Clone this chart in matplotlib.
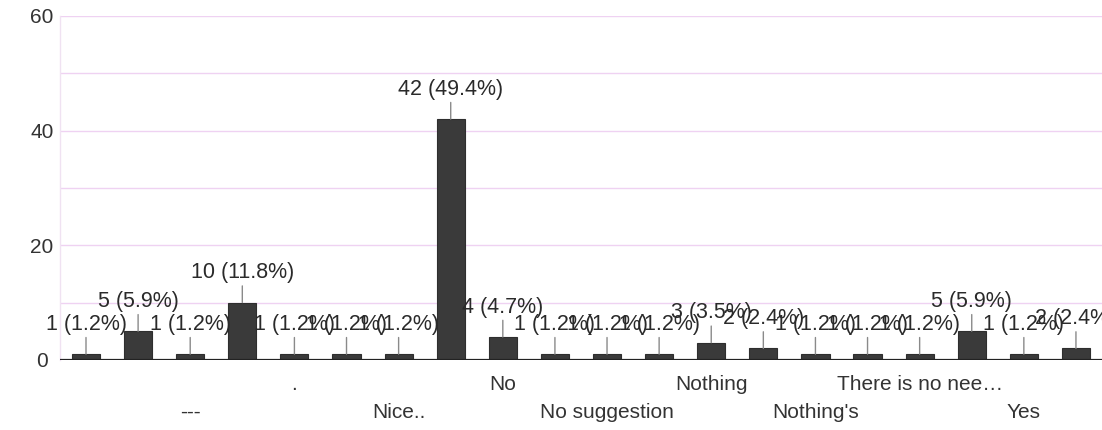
import matplotlib
matplotlib.use("Agg")
import matplotlib.pyplot as plt
import numpy as np

plt.rcParams['font.family'] = ['Liberation Sans', 'DejaVu Sans']

# ---- data ----
categories = ["", "", "---", "", ".", "", "Nice..", "", "No", "",
              "No suggestion", "", "Nothing", "", "Nothing's", "",
              "There is no nee\u2026", "", "Yes", ""]
counts = [1, 5, 1, 10, 1, 1, 1, 42, 4, 1, 1, 1, 3, 2, 1, 1, 1, 5, 1, 2]
total = 85
yticks = [0, 20, 40, 60]

fig = plt.figure(figsize=(11.02, 4.30), dpi=100)
ax = fig.add_axes([0.0544, 0.163, 0.9456, 0.8])

x = np.arange(len(counts))
ax.bar(x, counts, width=0.54, color="#3a3a3a", edgecolor="#2e2e2e", linewidth=0.8, zorder=3)

ax.set_xlim(-0.5, len(counts) - 0.5)
ax.set_ylim(0, 60)

# gridlines
for g in range(10, 61, 10):
    ax.axhline(g, color="#efd2f2", lw=1.0, zorder=0)
ax.axhline(0, color="#222222", lw=1.6, zorder=4)

for s in ["top", "right", "bottom"]:
    ax.spines[s].set_visible(False)
ax.spines["left"].set_color("#f0e2f2")
ax.spines["left"].set_linewidth(1.0)

ax.set_yticks(yticks)
ax.set_yticklabels([str(v) for v in yticks], fontsize=15, color="#333333")
ax.tick_params(axis="y", length=0, pad=13)
for lbl in ax.get_yticklabels():
    lbl.set_horizontalalignment("center")

ax.set_xticks(x)
ax.set_xticklabels(categories, fontsize=15, color="#333333")
ax.tick_params(axis="x", length=0)
for i, tick in enumerate(ax.xaxis.get_major_ticks()):
    if i % 4 == 0:
        tick.set_pad(11)
    else:
        tick.set_pad(31)

# data labels with leader lines
for xi, c in zip(x, counts):
    pct = c / total * 100
    ax.annotate(f"{c} ({pct:.1f}%)", xy=(xi, c), xytext=(0, 14),
                textcoords="offset points", ha="center", va="bottom",
                fontsize=15.5, color="#2a2a2a", zorder=5,
                arrowprops=dict(arrowstyle="-", color="#8a8a8a", lw=1.0,
                                shrinkA=0, shrinkB=0))

fig.savefig("out.png", dpi=100, facecolor="white")
